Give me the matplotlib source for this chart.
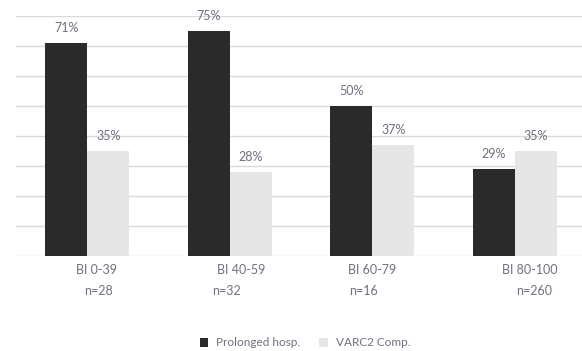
import numpy as np
import matplotlib.pyplot as plt
from matplotlib.patches import Patch

plt.rcParams['font.family'] = ['Lato', 'DejaVu Sans']

# ---
# Data: share of patients per Barthel index group

groups      = ["BI 0-39", "BI 40-59", "BI 60-79", "BI 80-100"]
n_labels    = ["n=28", "n=32", "n=16", "n=260"]
prolonged   = [71, 75, 50, 29]
varc2       = [35, 28, 37, 35]
series_names = ["Prolonged hosp.", "VARC2 Comp."]

# label offsets (points) for the two category text lines
grp_dx = [7, 8, 0, 11]
n_dx   = [8, -2, -6, 14]

DARK  = "#2a2a2a"
LIGHT = "#e6e6e6"
TEXT  = "#6f7080"

# ---

fig = plt.figure(figsize=(5.82, 3.51), dpi=100)
ax = fig.add_axes([16 / 582, 95 / 351, 570 / 582, 240 / 351])

x = np.arange(len(groups))
w = 0.295

b1 = ax.bar(x - w / 2, prolonged, w, color=DARK, zorder=3)
b2 = ax.bar(x + w / 2, varc2, w, color=LIGHT, zorder=3)

for bars, vals in ((b1, prolonged), (b2, varc2)):
    for rect, v in zip(bars, vals):
        ax.annotate(f"{v}%", (rect.get_x() + rect.get_width() / 2, v),
                    xytext=(0, 6.5), textcoords="offset points",
                    ha="center", va="bottom", fontsize=9, color=TEXT)

ax.set_xlim(-0.5, len(groups) - 0.5)
ax.set_ylim(0, 80)
ax.set_yticks(np.arange(0, 81, 10))
ax.yaxis.grid(True, color="#d9d9d9", linewidth=1, zorder=0)
ax.set_yticklabels([])
ax.tick_params(length=0)
ax.set_xticks([])
for s in ax.spines.values():
    s.set_visible(False)

# category labels, two lines each
for i in x:
    ax.annotate(groups[i], (i, 0), xytext=(grp_dx[i], -10), textcoords="offset points",
                ha="center", va="center", fontsize=9, color=TEXT, annotation_clip=False)
    ax.annotate(n_labels[i], (i, 0), xytext=(n_dx[i], -25.5), textcoords="offset points",
                ha="center", va="center", fontsize=9, color=TEXT, annotation_clip=False)

handles = [Patch(facecolor=DARK, label=series_names[0]),
           Patch(facecolor=LIGHT, label=series_names[1])]
leg = fig.legend(handles=handles, loc="center", bbox_to_anchor=(305 / 582, 1 - 343 / 351),
                 ncol=2, frameon=False, fontsize=8.5, handlelength=0.7, handleheight=0.7,
                 handletextpad=0.7, columnspacing=1.6)
for t in leg.get_texts():
    t.set_color(TEXT)

fig.savefig("out.png", dpi=100)
